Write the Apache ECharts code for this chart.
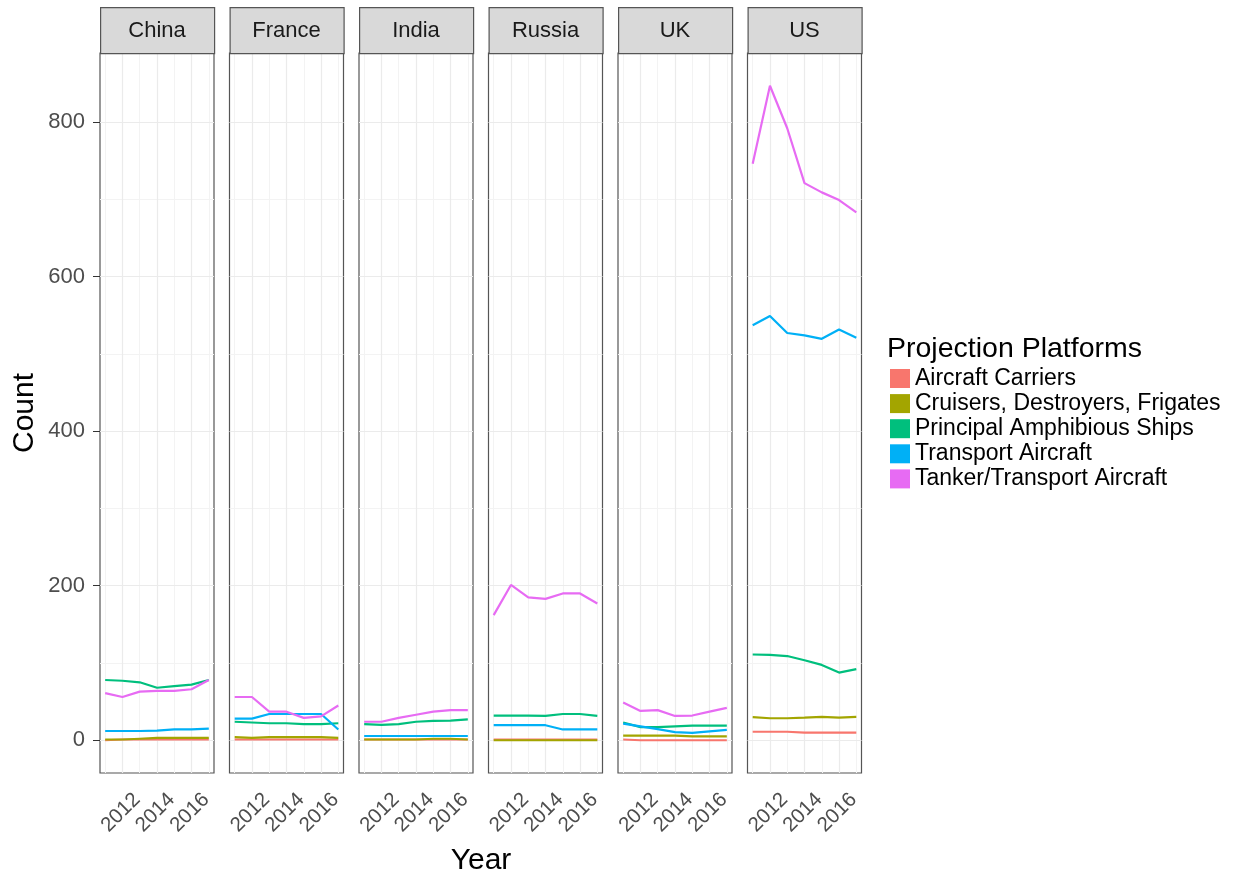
<!DOCTYPE html>
<html>
<head>
<meta charset="utf-8">
<script src="https://cdn.jsdelivr.net/npm/echarts@6/dist/echarts.min.js"></script>
<style>
  html, body { margin: 0; padding: 0; background: #fff; }
  #main { width: 1235px; height: 876px; }
</style>
</head>
<body>
<div id="main"></div>
<script>
var years = [2011, 2012, 2013, 2014, 2015, 2016, 2017];
var countries = ['China', 'France', 'India', 'Russia', 'UK', 'US'];
var platforms = ['Aircraft Carriers', 'Cruisers, Destroyers, Frigates', 'Principal Amphibious Ships',
    'Transport Aircraft', 'Tanker/Transport Aircraft'];
var colors = ['#F8766D', '#A3A500', '#00BF7D', '#00B0F6', '#E76BF3'];

// one row per platform, same order as platforms
var china = [
    [0, 1, 1, 1, 1, 1, 1],
    [1, 1, 2, 3, 3, 3, 3],
    [78, 77, 75, 68, 70, 72, 78],
    [12, 12, 12, 12.5, 14, 14, 15],
    [61, 56, 63, 64, 64, 66, 78]
];
var france = [
    [1, 1, 1, 1, 1, 1, 1],
    [4, 3, 4, 4, 4, 4, 3],
    [24, 23, 22, 22, 21, 21, 22],
    [28, 28, 34, 34, 34, 34, 14],
    [56, 56, 37, 37, 29, 31, 45]
];
var india = [
    [1, 1, 1, 1, 1, 1, 1],
    [1, 1, 1, 1, 2, 2, 1],
    [21, 20, 21, 24, 25, 25.5, 27],
    [5.5, 5.5, 5.5, 5.5, 5.5, 5.5, 5.5],
    [24, 24, 29, 33, 37, 39, 39]
];
var russia = [
    [1, 1, 1, 1, 1, 1, 1],
    [0, 0, 0, 0, 0, 0, 0],
    [32, 32, 32, 31.5, 34, 34, 31.5],
    [19.5, 19.5, 19.5, 19.5, 14, 14, 14],
    [162, 201, 185, 183, 190, 190, 177]
];
var uk = [
    [1, 0, 0, 0, 0, 0, 0],
    [6, 6, 6, 6, 5, 5, 5],
    [23, 17, 17, 18, 19, 19, 19],
    [21.5, 18, 14.5, 10.5, 9.5, 11.5, 13.5],
    [49, 38, 39, 31.5, 32, 37, 42]
];
var us = [
    [11, 11, 11, 10, 10, 10, 10],
    [30, 28.5, 28.5, 29.3, 30.2, 29.3, 30.2],
    [111, 110.5, 109, 103.6, 97.5, 87.6, 92],
    [537, 549, 527, 524, 519.5, 531.6, 521],
    [746, 847, 792, 721, 709, 699, 683]
];
var panels = [china, france, india, russia, uk, us];

var yTicks = [0, 200, 400, 600, 800];
var yMinor = [100, 300, 500, 700];
var xTicks = [2012, 2014, 2016];
var xMinor = [2011, 2013, 2015, 2017];

var font = 'Liberation Sans, Arial, sans-serif';
var panelLeft = 100, panelStep = 129.5, panelWidth = 114, panelTop = 53, panelHeight = 720;

var myChart = echarts.init(document.getElementById('main'));

var grids = [], xAxes = [], yAxes = [], series = [], graphics = [];

countries.forEach(function (c, i) {
    var left = panelLeft + i * panelStep;
    grids.push({
        left: left, top: panelTop, width: panelWidth, height: panelHeight,
        show: true, backgroundColor: '#fff', borderColor: '#555', borderWidth: 1.2
    });
    xAxes.push({
        type: 'value', gridIndex: i, min: 2010.7, max: 2017.3,
        axisLine: {show: false},
        splitLine: {show: false},
        axisTick: {show: true, customValues: xTicks, length: 6, lineStyle: {color: '#333'}},
        axisLabel: {
            show: true, customValues: xTicks, rotate: 45, margin: 9,
            verticalAlign: 'top', padding: [10, 0, 0, 0],
            fontSize: 20.5, color: '#4d4d4d', fontFamily: font,
            formatter: function (v) { return String(v); }
        }
    });
    yAxes.push({
        type: 'value', gridIndex: i, min: -42.35, max: 889.35,
        axisLine: {show: false},
        splitLine: {show: false},
        axisTick: {show: i === 0, customValues: yTicks, length: 7, lineStyle: {color: '#333'}},
        axisLabel: {
            show: i === 0, customValues: yTicks, margin: 15,
            fontSize: 22, color: '#4d4d4d', fontFamily: font
        },
        name: i === 0 ? 'Count' : '',
        nameLocation: 'middle', nameGap: 60, nameRotate: 90,
        nameTextStyle: {fontSize: 30, color: '#000', fontFamily: font}
    });

    // grid lines, drawn under the data
    var lines = [];
    yMinor.forEach(function (v) { lines.push({yAxis: v, lineStyle: {color: '#f3f3f3', width: 1}}); });
    xMinor.forEach(function (v) { lines.push({xAxis: v, lineStyle: {color: '#f3f3f3', width: 1}}); });
    yTicks.forEach(function (v) { lines.push({yAxis: v, lineStyle: {color: '#ebebeb', width: 1.2}}); });
    xTicks.forEach(function (v) { lines.push({xAxis: v, lineStyle: {color: '#ebebeb', width: 1.2}}); });
    series.push({
        type: 'line', xAxisIndex: i, yAxisIndex: i, data: [], z: 1,
        markLine: {
            silent: true, z: 1, symbol: ['none', 'none'], label: {show: false},
            animation: false, lineStyle: {type: 'solid'}, data: lines
        }
    });

    panels[i].forEach(function (vals, k) {
        series.push({
            name: platforms[k], type: 'line', xAxisIndex: i, yAxisIndex: i, z: 3,
            data: years.map(function (y, j) { return [y, vals[j]]; }),
            showSymbol: false, symbol: 'none',
            color: colors[k],
            lineStyle: {color: colors[k], width: 2.2}
        });
    });

    // facet strip
    graphics.push({
        type: 'rect', left: left, top: 7, z: 10,
        shape: {width: panelWidth, height: 46},
        style: {fill: '#d9d9d9', stroke: '#555', lineWidth: 1.2}
    });
    graphics.push({
        type: 'text', z: 11, x: left + panelWidth / 2, y: 31,
        style: {text: c, fill: '#1a1a1a', font: '22px ' + font, textAlign: 'center', textVerticalAlign: 'middle'}
    });
});

graphics.push({
    type: 'text', x: 481, y: 861,
    style: {text: 'Year', fill: '#000', font: '30px ' + font, textAlign: 'center', textVerticalAlign: 'middle'}
});
graphics.push({
    type: 'text', x: 887, y: 349,
    style: {text: 'Projection Platforms', fill: '#000', font: '28.5px ' + font, textAlign: 'left', textVerticalAlign: 'middle'}
});

myChart.setOption({
    animation: false,
    grid: grids,
    xAxis: xAxes,
    yAxis: yAxes,
    legend: {
        data: platforms.map(function (p) { return {name: p, icon: 'rect'}; }),
        orient: 'vertical', left: 885, top: 362,
        itemWidth: 20, itemHeight: 19, itemGap: 2.1,
        selectedMode: false,
        textStyle: {fontSize: 23, color: '#000', fontFamily: font}
    },
    graphic: graphics,
    series: series
});
</script>
</body>
</html>
